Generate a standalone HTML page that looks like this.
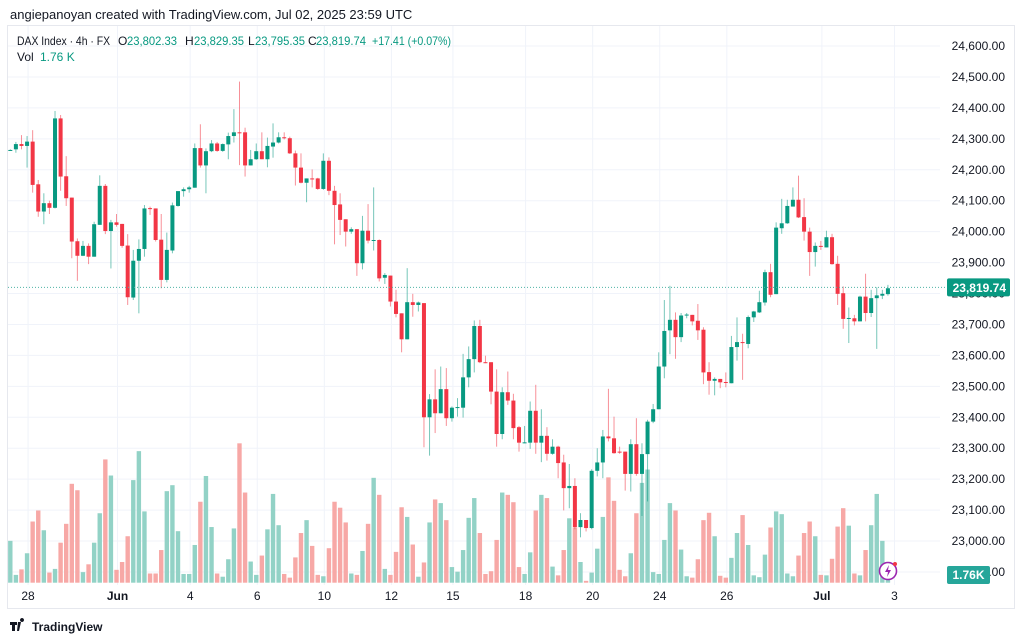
<!DOCTYPE html>
<html><head><meta charset="utf-8">
<style>
body{margin:0;background:#fff;font-family:"Liberation Sans",sans-serif;}
svg{display:block}
</style></head>
<body>
<svg id="chart" width="1024" height="642" viewBox="0 0 1024 642" xmlns="http://www.w3.org/2000/svg">
<rect x="0" y="0" width="1024" height="642" fill="#fff"/>
<text x="10" y="19" font-size="13" fill="#131722">angiepanoyan created with TradingView.com, Jul 02, 2025 23:59 UTC</text>
<rect x="7.5" y="25.5" width="1007" height="583" fill="none" stroke="#e6e8ee"/>
<g id="grid"></g>
<g id="vol"></g>
<g id="candles"></g>
<g id="axis"></g>
<g font-size="12">
<text x="17" y="45" fill="#131722" textLength="93" lengthAdjust="spacingAndGlyphs">DAX Index · 4h · FX</text>
<text x="118" y="45" fill="#131722">O</text><text x="127" y="45" fill="#089981" textLength="50" lengthAdjust="spacingAndGlyphs">23,802.33</text>
<text x="185" y="45" fill="#131722">H</text><text x="194" y="45" fill="#089981" textLength="50" lengthAdjust="spacingAndGlyphs">23,829.35</text>
<text x="248" y="45" fill="#131722">L</text><text x="255" y="45" fill="#089981" textLength="50" lengthAdjust="spacingAndGlyphs">23,795.35</text>
<text x="308" y="45" fill="#131722">C</text><text x="316" y="45" fill="#089981" textLength="50" lengthAdjust="spacingAndGlyphs">23,819.74</text>
<text x="372" y="45" fill="#089981" textLength="79" lengthAdjust="spacingAndGlyphs">+17.41 (+0.07%)</text>
<text x="17" y="61" fill="#131722">Vol</text><text x="40" y="61" fill="#089981">1.76 K</text>
</g>
<g>
<path d="M10 622h7v3h-2v6h-3v-6h-2z M18 622h3l-2 9h-2z M22 622a2 2 0 1 1 0.01 0z" fill="#131722"/>
<text x="32" y="631" font-size="12" font-weight="bold" fill="#131722">TradingView</text>
</g>
<g>
<circle cx="888" cy="571" r="8.5" fill="#fff" stroke="#9c27b0" stroke-width="1.6"/>
<path d="M889 565l-4 7h3l-1 5 4-7h-3z" fill="#9c27b0"/>
<circle cx="895" cy="564" r="2" fill="#f23645"/>
</g>
</svg>
<script>
const categories=["28","Jun","4","6","10","12","15","18","20","24","26","Jul","3"];
const categoryIndex=[3,19,32,44,56,68,79,92,104,116,128,145,158];
const priceTicks=[24600,24500,24400,24300,24200,24100,24000,23900,23800,23700,23600,23500,23400,23300,23200,23100,23000,22900];
const opens=[24264,24266,24283,24277,24291,24153,24065,24092,24077,24366,24179,24110,23969,23922,23954,23919,24022,24148,24002,24030,24025,23955,23787,23906,23944,24076,24075,23974,23844,23939,24083,24131,24137,24142,24270,24214,24260,24285,24261,24282,24309,24321,24321,24214,24234,24260,24234,24275,24288,24305,24302,24253,24207,24158,24172,24172,24138,24229,24132,24088,24040,24000,24008,23898,24003,23971,23973,23851,23858,23774,23736,23652,23772,23763,23769,23400,23458,23413,23491,23397,23431,23431,23529,23588,23695,23578,23578,23483,23346,23481,23454,23368,23318,23318,23421,23318,23340,23282,23305,23254,23171,23178,23045,23068,23042,23227,23254,23338,23332,23289,23289,23217,23313,23217,23281,23386,23426,23564,23681,23715,23659,23731,23731,23712,23683,23546,23518,23524,23514,23510,23627,23643,23637,23723,23739,23771,23869,23798,24011,24027,24081,24103,24047,24000,23934,23954,23949,23982,23896,23801,23720,23720,23710,23790,23737,23785,23793,23798];
const highs=[24266,24290,24312,24309,24328,24167,24124,24100,24390,24377,24244,24110,23978,23970,23962,24032,24182,24154,24038,24057,24025,23992,23941,23975,24086,24081,24075,24057,23997,24094,24131,24143,24148,24285,24347,24269,24296,24290,24285,24320,24396,24485,24336,24264,24285,24321,24304,24350,24321,24321,24307,24262,24253,24172,24201,24174,24253,24240,24148,24124,24040,24014,24008,24051,24089,24143,23975,23866,23858,23812,23736,23882,23799,23774,23769,23475,23555,23564,23559,23435,23462,23605,23629,23713,23715,23599,23578,23555,23497,23548,23476,23372,23372,23451,23505,23426,23368,23329,23308,23279,23249,23203,23090,23068,23232,23300,23359,23492,23402,23305,23289,23329,23397,23316,23392,23443,23610,23779,23825,23739,23737,23737,23731,23766,23691,23578,23529,23524,23545,23663,23723,23670,23729,23744,23809,23877,23896,24030,24106,24103,24143,24181,24108,24013,23965,23970,24003,23993,23922,23823,23755,23731,23793,23864,23812,23820,23812,23828];
const lows=[24262,24255,24266,24207,24126,24048,24024,24057,24075,24132,24083,23914,23841,23921,23895,23919,24022,23992,23881,24016,23948,23763,23779,23736,23919,24054,23968,23817,23836,23930,24081,24113,24126,24142,24207,24124,24257,24258,24258,24234,24288,24215,24178,24214,24232,24234,24208,24239,24285,24298,24251,24149,24156,24095,24143,24135,24135,24118,23959,23989,23952,23993,23857,23878,23962,23939,23839,23831,23758,23723,23610,23652,23725,23742,23303,23276,23349,23413,23372,23386,23402,23399,23497,23545,23575,23575,23442,23305,23329,23440,23329,23289,23316,23298,23282,23255,23260,23279,23203,23099,23106,23038,23012,23031,23038,23209,23203,23322,23282,23282,23163,23160,23211,23081,23128,23381,23426,23526,23604,23589,23643,23720,23697,23650,23507,23473,23471,23494,23497,23510,23583,23521,23623,23708,23737,23761,23788,23798,23993,24025,24081,24044,23971,23857,23887,23941,23949,23893,23763,23686,23640,23697,23710,23710,23724,23621,23782,23793];
const closes=[24264,24283,24277,24291,24151,24065,24092,24077,24366,24178,24108,23968,23922,23954,23919,24024,24148,24002,24030,24022,23954,23788,23906,23944,24075,24075,23973,23844,23941,24085,24131,24137,24143,24270,24214,24260,24285,24261,24283,24309,24321,24320,24214,24234,24260,24234,24277,24288,24305,24302,24253,24207,24158,24172,24170,24138,24229,24132,24086,24038,24000,24008,23898,24003,23971,23973,23849,23860,23774,23734,23652,23772,23763,23771,23400,23458,23413,23491,23397,23431,23433,23529,23588,23695,23578,23576,23483,23346,23481,23454,23365,23318,23319,23421,23318,23340,23282,23305,23252,23171,23178,23045,23068,23042,23227,23254,23338,23332,23284,23288,23217,23313,23217,23281,23386,23426,23564,23679,23715,23659,23729,23732,23710,23681,23545,23518,23524,23513,23513,23627,23643,23641,23724,23742,23772,23869,23796,24013,24027,24083,24103,24046,24000,23934,23954,23953,23982,23895,23799,23718,23721,23710,23790,23737,23785,23794,23799,23817];
const volumes=[9.1,1.7,2.9,6.4,13.3,15.7,11.4,2.2,3.0,8.7,12.8,21.5,20.1,2.3,4.0,8.7,15.1,26.8,23.3,2.8,4.5,10.1,22.3,28.6,15.5,2.0,2.0,7.1,19.9,21.2,11.2,1.9,1.9,8.2,17.6,23.2,12.1,2.0,1.3,5.1,11.8,30.3,19.6,4.6,1.7,5.9,11.6,19.3,12.5,1.9,1.1,5.5,10.8,13.6,8.0,1.7,1.4,7.5,17.6,16.3,13.1,2.0,1.7,6.9,12.8,22.8,19.1,3.0,1.7,6.7,16.4,14.3,8.3,1.3,4.4,13.1,18.1,17.3,13.6,3.4,2.4,7.1,14.1,18.4,10.8,1.9,2.5,9.3,19.6,19.1,17.5,3.4,1.9,6.6,15.7,19.1,18.4,3.5,1.6,7.1,14.0,12.0,4.5,0.4,2.2,7.4,14.3,22.9,17.8,2.8,1.4,6.4,15.1,21.7,24.6,2.3,1.9,9.3,17.3,15.7,7.2,1.4,1.1,5.1,13.6,15.2,10.1,1.5,1.1,5.4,10.8,14.7,8.2,1.6,1.2,6.1,12.0,15.5,14.9,2.0,1.4,5.9,10.8,13.3,10.1,1.7,1.6,5.2,12.2,16.2,12.4,2.0,1.6,7.1,12.5,19.3,9.1,1.76];
const lastPrice=23819.74;
const lastVolumeLabel="1.76K";

const NS="http://www.w3.org/2000/svg";
const X0=10.3, STEP=5.59;
function xOf(i){return X0+STEP*i;}
function yOf(p){return 46+(24600-p)*0.3094;}
const VBASE=582.7, VPX=4.6;
function vy(v){return VBASE-v*VPX;}
function mk(tag,attrs,parent){const e=document.createElementNS(NS,tag);for(const k in attrs)e.setAttribute(k,attrs[k]);parent.appendChild(e);return e;}

const grid=document.getElementById('grid');
priceTicks.forEach(p=>{
  const l=mk('line',{x1:8,x2:940,y1:yOf(p),y2:yOf(p),stroke:'#f0f3fa','stroke-width':1},grid);
  
  
});
categoryIndex.forEach(i=>{
  const l=mk('line',{x1:xOf(i)+1,x2:xOf(i)+1,y1:26,y2:585,stroke:'#f0f3fa','stroke-width':1},grid);
  
  
});

const volG=document.getElementById('vol');
volumes.forEach((v,i)=>{
  const up=closes[i]>=opens[i];
  const r=mk('rect',{x:xOf(i)-2.2,y:vy(v),width:4.4,height:v*VPX,fill:up?'#92d2c6':'#f7a8a6'},volG);
  
  
});

const cg=document.getElementById('candles');
opens.forEach((o,i)=>{
  const c=closes[i], up=c>=o, col=up?'#089981':'#f23645';
  const x=xOf(i);
  const g=mk('g',{},cg);
  
  
  mk('line',{x1:x,x2:x,y1:yOf(highs[i]),y2:yOf(lows[i]),stroke:col,'stroke-width':1,opacity:0.55},g);
  const top=yOf(Math.max(o,c)), bot=yOf(Math.min(o,c));
  mk('rect',{x:x-2,y:top,width:4,height:Math.max(1,bot-top),fill:col},g);
});

const ax=document.getElementById('axis');
priceTicks.forEach(p=>{
  const t=mk('text',{x:1005,y:yOf(p)+4,'text-anchor':'end','font-size':12,fill:'#131722'},ax);
  t.textContent=p.toLocaleString('en-US',{minimumFractionDigits:2});
  
  
});
categories.forEach((c,i)=>{
  const t=mk('text',{x:xOf(categoryIndex[i])+1,y:600,'text-anchor':'middle','font-size':12,fill:'#131722','font-weight':(c==='Jun'||c==='Jul')?'bold':'normal'},ax);
  t.textContent=c;
  
  
});
const ly=yOf(lastPrice);
const pl=mk('line',{x1:8,x2:945,y1:ly,y2:ly,stroke:'#4fb3a5','stroke-width':1,'stroke-dasharray':'1 2'},ax);


const pb=mk('rect',{x:947,y:ly-9,width:63,height:18,rx:2,fill:'#089981'},ax);


const pt=mk('text',{x:1006,y:ly+4.5,'text-anchor':'end','font-size':12,fill:'#fff','font-weight':'bold'},ax);
pt.textContent=lastPrice.toLocaleString('en-US',{minimumFractionDigits:2});


const vb=mk('rect',{x:947,y:566,width:43,height:18,rx:2,fill:'#26a69a'},ax);


const vt=mk('text',{x:968.5,y:579,'text-anchor':'middle','font-size':12,fill:'#fff','font-weight':'bold'},ax);
vt.textContent=lastVolumeLabel;


</script>
</body></html>
